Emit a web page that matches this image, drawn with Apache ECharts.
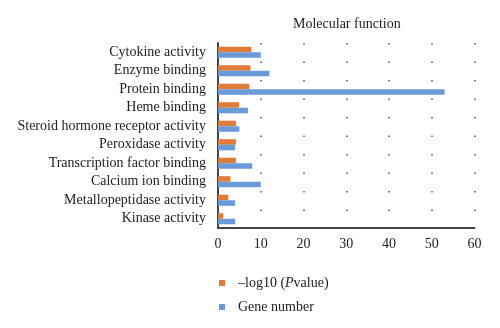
<!DOCTYPE html>
<html>
<head>
<meta charset="utf-8">
<script src="https://cdn.jsdelivr.net/npm/echarts@6/dist/echarts.min.js"></script>
<style>
  html, body { margin: 0; padding: 0; background: #fff; }
  #chart { width: 500px; height: 328px; }
</style>
</head>
<body>
<div id="chart"></div>
<script>
// GO molecular function terms, top to bottom
const categories = [
  'Cytokine activity',
  'Enzyme binding',
  'Protein binding',
  'Heme binding',
  'Steroid hormone receptor activity',
  'Peroxidase activity',
  'Transcription factor binding',
  'Calcium ion binding',
  'Metallopeptidase activity',
  'Kinase activity'
];
// -log10(P value) per term
const negLogP = [7.8, 7.6, 7.3, 4.9, 4.2, 4.2, 4.2, 2.9, 2.4, 1.2];
// number of genes per term
const geneNumber = [10, 12, 53, 7, 5, 4, 8, 10, 4, 4];
const xTicks = [0, 10, 20, 30, 40, 50, 60];

const FONT = '"Liberation Serif", "DejaVu Serif", serif';
const FS = 14;
const chart = echarts.init(document.getElementById('chart'), null, { renderer: 'canvas' });

chart.setOption({
  animation: false,
  backgroundColor: '#ffffff',
  textStyle: { fontFamily: FONT },
  title: {
    text: 'Molecular function',
    left: 288,
    top: 12,
    textStyle: { fontFamily: FONT, fontSize: FS, fontWeight: 'normal', color: '#222' }
  },
  legend: {
    orient: 'vertical',
    left: 214,
    top: 271,
    itemWidth: 6,
    itemHeight: 6,
    itemGap: 10,
    icon: 'rect',
    textStyle: {
      fontFamily: FONT,
      fontSize: FS,
      color: '#222',
      padding: [0, 0, 0, 8],
      rich: {
        n: { fontFamily: FONT, fontSize: FS, color: '#222' },
        i: { fontFamily: FONT, fontSize: FS, color: '#222', fontStyle: 'italic' }
      }
    },
    formatter: function (name) {
      if (name.indexOf('log10') >= 0) return '{n|\u2013log10 (}{i|P}{n|value)}';
      return name;
    },
    data: ['-log10 (Pvalue)', 'Gene number']
  },
  grid: { left: 218, right: 25.5, top: 43, bottom: 100 },
  xAxis: {
    type: 'value',
    min: xTicks[0],
    max: xTicks[xTicks.length - 1],
    interval: xTicks[1] - xTicks[0],
    axisLine: { show: true, lineStyle: { color: '#444', width: 2 } },
    axisTick: { show: false },
    axisLabel: { margin: 9, fontFamily: FONT, fontSize: FS, color: '#222' },
    splitLine: {
      show: true,
      lineStyle: { color: '#555', width: 1.5, type: [1.5, 17] }
    }
  },
  yAxis: {
    type: 'category',
    inverse: true,
    data: categories,
    axisLine: { show: true, lineStyle: { color: '#444', width: 2 } },
    axisTick: { show: false },
    axisLabel: { margin: 12, fontFamily: FONT, fontSize: FS, color: '#222' }
  },
  series: [
    {
      name: '-log10 (Pvalue)',
      type: 'bar',
      data: negLogP,
      barGap: '0%',
      barCategoryGap: '40%',
      itemStyle: { color: '#E07B39' }
    },
    {
      name: 'Gene number',
      type: 'bar',
      data: geneNumber,
      barGap: '0%',
      barCategoryGap: '40%',
      itemStyle: { color: '#6A9BD8' }
    }
  ]
});
</script>
</body>
</html>
